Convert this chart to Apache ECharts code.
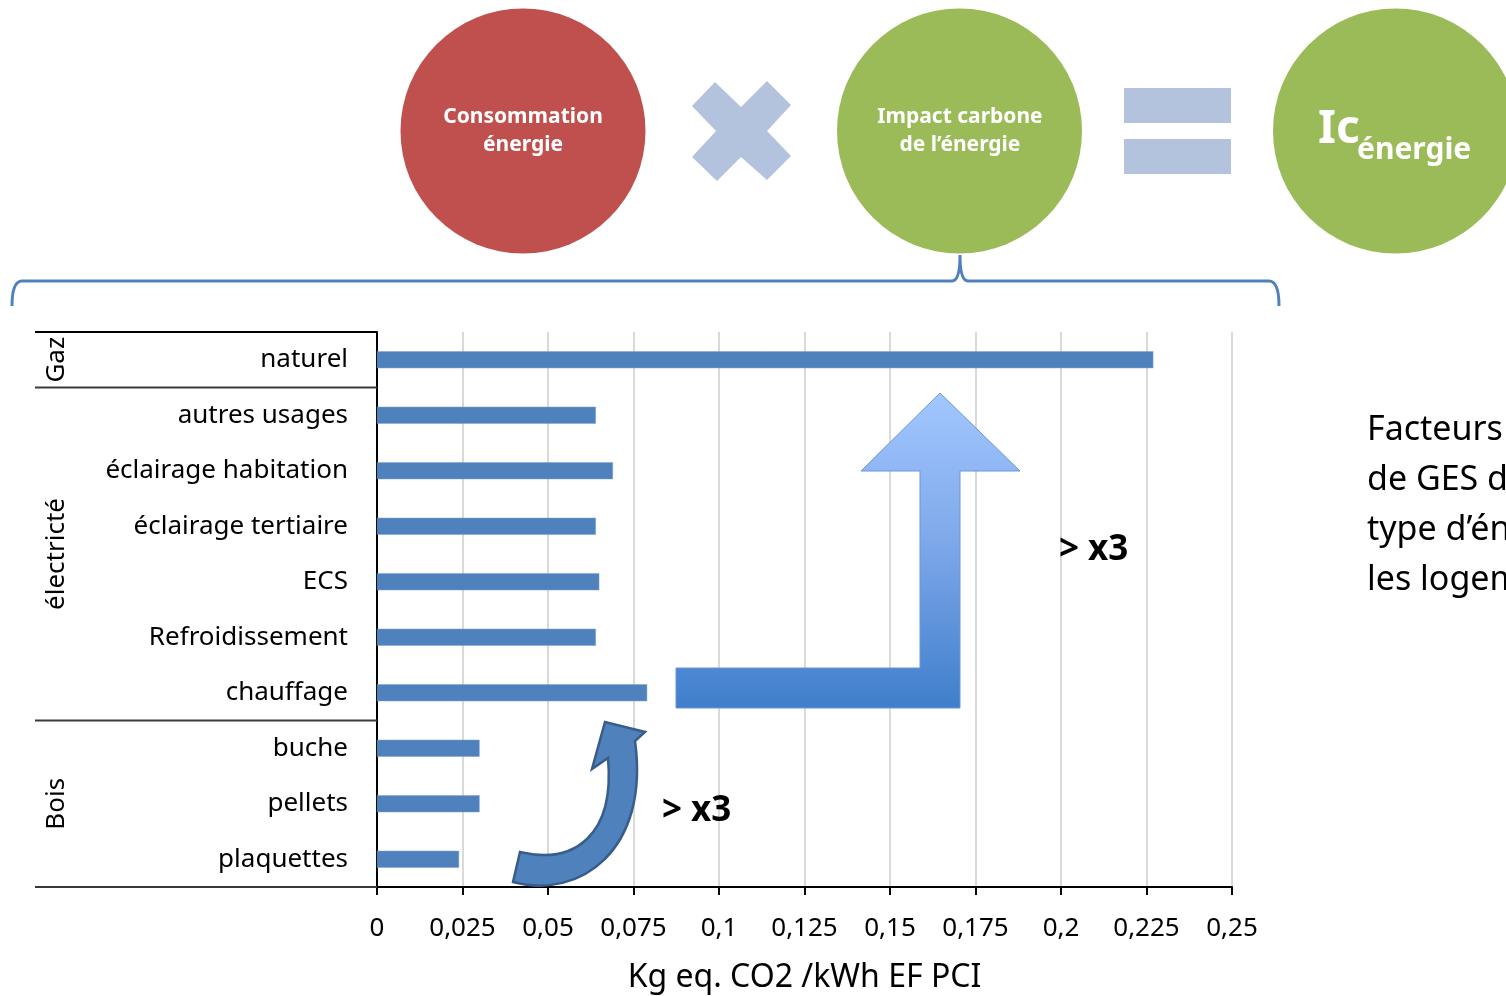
<!DOCTYPE html>
<html>
<head>
<meta charset="utf-8">
<script src="https://cdn.jsdelivr.net/npm/echarts@6/dist/echarts.min.js"></script>
<style>
  html, body { margin: 0; padding: 0; background: #fff; }
  #chart { width: 1506px; height: 996px; }
</style>
</head>
<body>
<div id="chart"></div>
<script>
// ---- Data ----
const categories = ['naturel', 'autres usages', 'éclairage habitation', 'éclairage tertiaire', 'ECS', 'Refroidissement', 'chauffage', 'buche', 'pellets', 'plaquettes'];
const values = [0.227, 0.064, 0.069, 0.064, 0.065, 0.064, 0.079, 0.030, 0.030, 0.024];
const groupNames = ['Gaz', 'électricté', 'Bois'];
const groupSizes = [1, 6, 3];
const tickLabels = ['0', '0,025', '0,05', '0,075', '0,1', '0,125', '0,15', '0,175', '0,2', '0,225', '0,25'];
const axisTitle = 'Kg eq. CO2 /kWh EF PCI';
const circleLabels = ['Consommation\nénergie', 'Impact carbone\nde l’énergie'];
const sideText = 'Facteurs d’émission\nde GES de chaque\ntype d’énergie pour\nles logements';
const ratioLabel = '> x3';

const FONT = 'Noto Sans';
const chart = echarts.init(document.getElementById('chart'), null, { renderer: 'canvas' });

const bracketPath = 'M 12 306 Q 12 281 22 281 L 952 281 Q 960 281 960 255 Q 960 281 968 281 L 1269 281 Q 1279 281 1279 306';
const curvedArrowPath = 'M 513 882 L 520 852 C 575 865 615 835 608 758 L 592 769 L 605 722 L 645 732 L 635 741 C 650 850 580 900 513 882 Z';

chart.setOption({
  animation: false,
  backgroundColor: '#ffffff',
  grid: { left: 377, top: 332, width: 855, height: 555, containLabel: false, outerBoundsMode: 'none' },
  xAxis: {
    type: 'value', min: 0, max: 0.25, interval: 0.025,
    name: axisTitle, nameLocation: 'middle', nameGap: 75,
    nameTextStyle: { fontFamily: FONT, fontSize: 32, color: '#000' },
    axisLine: { show: true, lineStyle: { color: '#000', width: 2 } },
    axisTick: { show: true, length: 8, lineStyle: { color: '#000', width: 2 } },
    axisLabel: {
      fontFamily: FONT, fontSize: 26, color: '#000', margin: 29,
      formatter: function (v) { return tickLabels[Math.round(v / 0.025)]; }
    },
    splitLine: { show: true, lineStyle: { color: '#D9D9D9', width: 2 } }
  },
  yAxis: {
    type: 'category', inverse: true, data: categories,
    axisLine: { show: true, lineStyle: { color: '#000', width: 2 } },
    axisTick: { show: false },
    axisLabel: { fontFamily: FONT, fontSize: 26, color: '#000', margin: 29 },
    splitLine: { show: false }
  },
  series: [{
    type: 'bar', data: values, barWidth: 17,
    itemStyle: { color: '#4F81BD', borderColor: '#7FA3D1', borderWidth: 0.5 },
    z: 3
  }, {
    type: 'custom', coordinateSystem: 'none', data: [0], z: 20, silent: true,
    renderItem: function () {
      return {
        type: 'group',
        children: [
          { type: 'path', shape: { pathData: bracketPath }, style: { fill: 'none', stroke: '#4F81BD', lineWidth: 3 } },
          { type: 'path', shape: { pathData: curvedArrowPath }, style: { fill: '#4F81BD', stroke: '#385D8A', lineWidth: 2.5 } }
        ]
      };
    }
  }]
});

// ---- Annotations positioned from the axes ----
const c0 = chart.convertToPixel({ yAxisIndex: 0 }, categories[0]);
const c1 = chart.convertToPixel({ yAxisIndex: 0 }, categories[1]);
const band = c1 - c0;
const topY = c0 - band / 2;
const axisX = chart.convertToPixel({ xAxisIndex: 0 }, 0);

const g = [];
let start = 0;
const boundaries = [topY];
groupSizes.forEach(function (n, i) {
  const y0 = topY + start * band;
  const y1 = topY + (start + n) * band;
  boundaries.push(y1);
  g.push({
    type: 'text', z: 10,
    x: 57, y: (y0 + y1) / 2, rotation: Math.PI / 2,
    style: { text: groupNames[i], fontFamily: FONT, fontSize: 26, fill: '#000', align: 'center', verticalAlign: 'middle' }
  });
  start += n;
});
boundaries.forEach(function (y, i) {
  g.push({
    type: 'line', z: 10,
    shape: { x1: 35, y1: y, x2: axisX, y2: y },
    style: { stroke: i === 0 ? '#000' : '#3a3a3a', lineWidth: 2 }
  });
});

// top formula
g.push({ type: 'circle', shape: { cx: 523, cy: 131, r: 122.5 }, style: { fill: '#C0504D' } });
g.push({ type: 'text', style: { x: 523, y: 131, text: circleLabels[0], fontFamily: FONT, fontWeight: 'bold', fontSize: 21, lineHeight: 28, fill: '#fff', align: 'center', verticalAlign: 'middle' } });
g.push({ type: 'polygon', shape: { points: [[715, 82], [741, 107], [767, 81], [791, 105], [767, 131], [791, 156], [767, 180], [741, 157], [717, 181], [692, 157], [716, 131], [692, 106]] }, style: { fill: '#B3C3DD' } });
g.push({ type: 'circle', shape: { cx: 959.5, cy: 131, r: 122.5 }, style: { fill: '#9BBB59' } });
g.push({ type: 'text', style: { x: 960, y: 131, text: circleLabels[1], fontFamily: FONT, fontWeight: 'bold', fontSize: 21, lineHeight: 28, fill: '#fff', align: 'center', verticalAlign: 'middle' } });
g.push({ type: 'rect', shape: { x: 1124, y: 88, width: 107, height: 35 }, style: { fill: '#B3C3DD' } });
g.push({ type: 'rect', shape: { x: 1124, y: 139, width: 107, height: 35 }, style: { fill: '#B3C3DD' } });
g.push({ type: 'circle', shape: { cx: 1395.5, cy: 131, r: 122.5 }, style: { fill: '#9BBB59' } });
g.push({ type: 'text', style: { x: 1318, y: 130, text: 'Ic', fontFamily: FONT, fontWeight: 'bold', fontSize: 46, fill: '#fff', align: 'left', verticalAlign: 'middle' } });
g.push({ type: 'text', style: { x: 1357, y: 150, text: 'énergie', fontFamily: FONT, fontWeight: 'bold', fontSize: 30, fill: '#fff', align: 'left', verticalAlign: 'middle' } });

// side text
g.push({ type: 'text', style: { x: 1367, y: 505, text: sideText, fontFamily: FONT, fontSize: 34, lineHeight: 50, fill: '#000', align: 'left', verticalAlign: 'middle' } });

// big L-shaped arrow
g.push({
  type: 'polygon', z: 20,
  shape: { points: [[676, 668], [920, 668], [920, 471], [861, 471], [940, 393], [1020, 471], [960, 471], [960, 708], [676, 708]] },
  style: {
    fill: new echarts.graphic.LinearGradient(0, 0, 0, 1, [
      { offset: 0, color: '#A3C7FF' },
      { offset: 0.45, color: '#80AAEB' },
      { offset: 1, color: '#3F7ECC' }
    ]),
    stroke: '#6B97D6', lineWidth: 1
  }
});
g.push({ type: 'text', z: 20, style: { x: 1059, y: 550, text: ratioLabel, fontFamily: FONT, fontWeight: 'bold', fontSize: 35, fill: '#000', align: 'left', verticalAlign: 'middle' } });
g.push({ type: 'text', z: 20, style: { x: 662, y: 811, text: ratioLabel, fontFamily: FONT, fontWeight: 'bold', fontSize: 35, fill: '#000', align: 'left', verticalAlign: 'middle' } });

chart.setOption({ graphic: g });
</script>
</body>
</html>
